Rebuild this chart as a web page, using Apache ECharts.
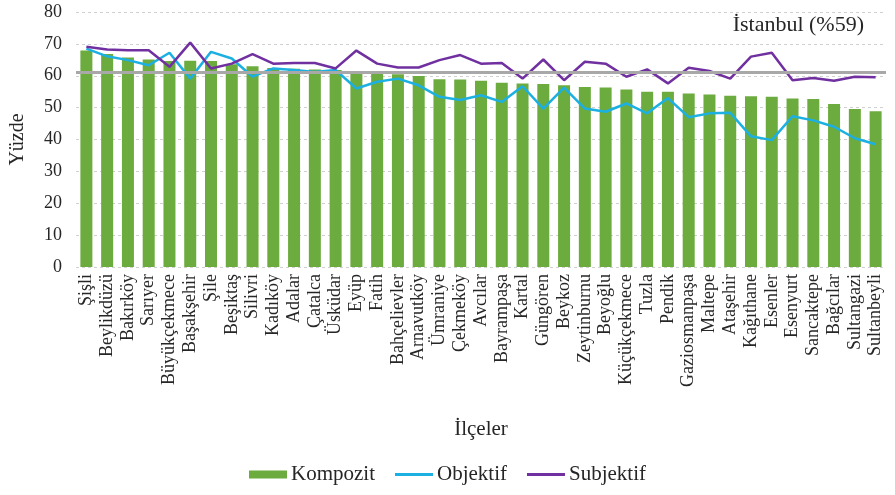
<!DOCTYPE html>
<html>
<head>
<meta charset="utf-8">
<script src="https://cdn.jsdelivr.net/npm/echarts@6/dist/echarts.min.js"></script>
<style>
  html, body { margin: 0; padding: 0; background: #fff; }
  #chart { width: 895px; height: 495px; }
</style>
</head>
<body>
<div id="chart"></div>
<script>
const districts = ['Şişli', 'Beylikdüzü', 'Bakırköy', 'Sarıyer', 'Büyükçekmece', 'Başakşehir', 'Şile', 'Beşiktaş',
  'Silivri', 'Kadıköy', 'Adalar', 'Çatalca', 'Üsküdar', 'Eyüp', 'Fatih', 'Bahçelievler', 'Arnavutköy', 'Ümraniye',
  'Çekmeköy', 'Avcılar', 'Bayrampaşa', 'Kartal', 'Güngören', 'Beykoz', 'Zeytinburnu', 'Beyoğlu', 'Küçükçekmece',
  'Tuzla', 'Pendik', 'Gaziosmanpaşa', 'Maltepe', 'Ataşehir', 'Kağıthane', 'Esenler', 'Esenyurt', 'Sancaktepe',
  'Bağcılar', 'Sultangazi', 'Sultanbeyli'];

const kompozit = [67.9, 66.8, 65.7, 65.1, 64.6, 64.7, 64.6, 63.6, 63.0, 62.4, 62.2, 62.0, 61.8, 61.5, 60.7, 60.5,
  59.9, 58.9, 58.8, 58.4, 57.8, 57.6, 57.4, 57.0, 56.5, 56.3, 55.7, 55.0, 55.0, 54.4, 54.1, 53.7, 53.6, 53.4,
  52.9, 52.7, 51.1, 49.6, 48.9];

const objektif = [68.5, 66.1, 64.9, 63.3, 67.2, 59.1, 67.5, 65.4, 59.7, 62.3, 61.8, 61.2, 61.8, 56.0, 58.1, 59.1,
  57.0, 53.4, 52.4, 53.9, 51.8, 56.7, 49.7, 56.3, 49.7, 48.7, 51.3, 48.2, 53.0, 47.0, 48.2, 48.4, 41.0, 39.8,
  47.3, 46.0, 44.0, 40.4, 38.5];

const subjektif = [69.1, 68.2, 68.0, 68.0, 62.8, 70.4, 62.3, 63.8, 66.8, 63.8, 64.0, 64.0, 62.3, 67.9, 63.8, 62.6,
  62.6, 64.9, 66.5, 63.8, 64.0, 59.1, 65.1, 58.6, 64.4, 63.8, 59.7, 62.0, 57.6, 62.5, 61.5, 59.1, 66.0, 67.2,
  58.6, 59.3, 58.4, 59.7, 59.5];

const istanbulLine = 61;
const yTicks = [0, 80, 10];

const serif = '"Liberation Serif", "DejaVu Serif", serif';
const lineIcon = 'path://M0,0h40v3H0z';
const chart = echarts.init(document.getElementById('chart'));

chart.setOption({
  backgroundColor: '#ffffff',
  animation: false,
  textStyle: { fontFamily: serif },
  title: {
    text: 'İstanbul (%59)',
    right: 26,
    top: 9,
    textStyle: { fontFamily: serif, fontSize: 22, fontWeight: 'normal', color: '#262626' }
  },
  grid: { left: 72, right: 9, top: 12, bottom: 228 },
  legend: {
    bottom: 5,
    left: 'center',
    itemGap: 20,
    itemWidth: 38,
    itemHeight: 8,
    textStyle: { fontFamily: serif, fontSize: 21, color: '#262626', padding: [0, 0, 0, -1] },
    data: [
      { name: 'Kompozit', icon: 'rect' },
      { name: 'Objektif', icon: lineIcon },
      { name: 'Subjektif', icon: lineIcon }
    ]
  },
  xAxis: {
    type: 'category',
    data: districts,
    name: 'İlçeler',
    nameLocation: 'middle',
    nameGap: 152,
    nameTextStyle: { fontFamily: serif, fontSize: 21, color: '#262626' },
    axisLine: { show: false },
    axisTick: { show: false },
    axisLabel: { interval: 0, rotate: 90, fontFamily: serif, fontSize: 18, color: '#262626', margin: 7 }
  },
  yAxis: {
    type: 'value',
    min: yTicks[0],
    max: yTicks[1],
    interval: yTicks[2],
    name: 'Yüzde',
    nameLocation: 'middle',
    nameGap: 48,
    nameTextStyle: { fontFamily: serif, fontSize: 20, color: '#262626' },
    axisLine: { show: false },
    axisTick: { show: false },
    axisLabel: { fontFamily: serif, fontSize: 18, color: '#262626', margin: 14 },
    splitLine: { lineStyle: { color: '#d0d0d0', type: [3, 3], width: 1 } }
  },
  series: [
    {
      name: 'Kompozit',
      type: 'bar',
      data: kompozit,
      barWidth: 12,
      itemStyle: { color: '#6cab3e' },
      markLine: {
        silent: true,
        symbol: 'none',
        label: { show: false },
        lineStyle: { color: '#a8a8a8', width: 3, type: 'solid' },
        data: [{ yAxis: istanbulLine }]
      }
    },
    {
      name: 'Objektif',
      type: 'line',
      data: objektif,
      symbol: 'none',
      lineStyle: { color: '#1cb0e2', width: 2.5 },
      itemStyle: { color: '#1cb0e2' }
    },
    {
      name: 'Subjektif',
      type: 'line',
      data: subjektif,
      symbol: 'none',
      lineStyle: { color: '#7030a0', width: 2.5 },
      itemStyle: { color: '#7030a0' }
    }
  ]
});
</script>
</body>
</html>
